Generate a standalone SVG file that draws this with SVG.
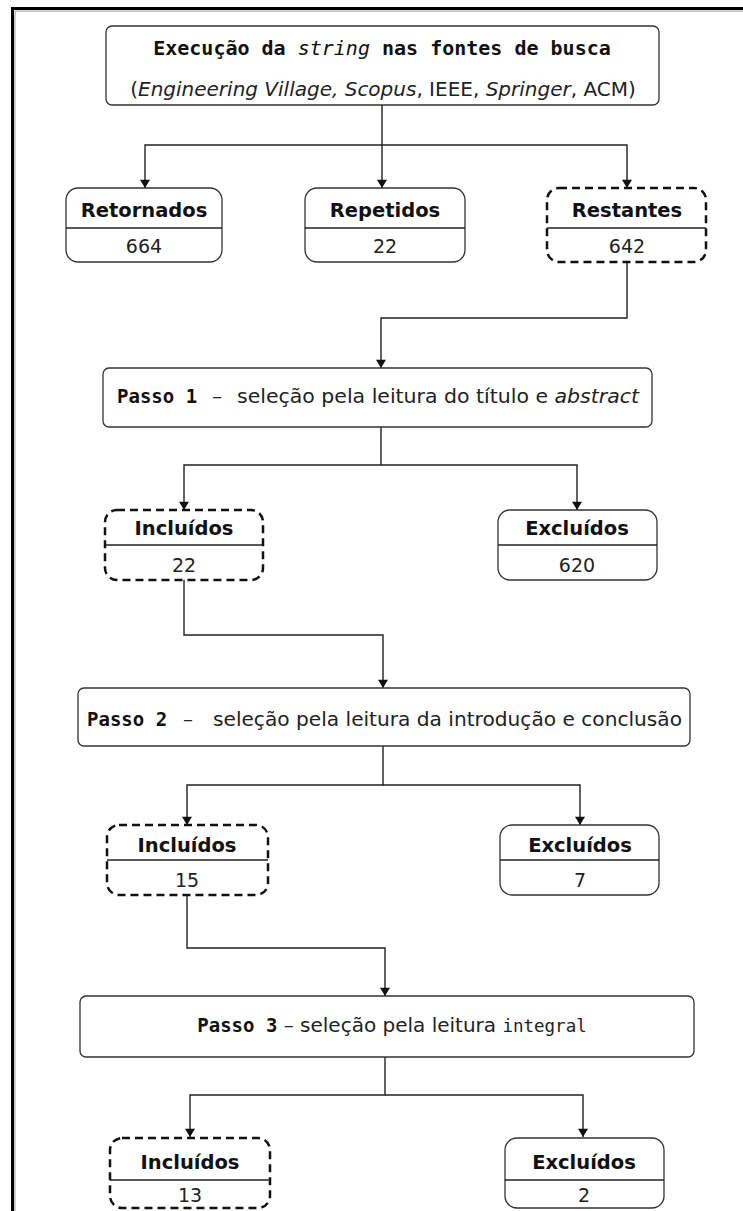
<svg xmlns="http://www.w3.org/2000/svg" width="743" height="1211" viewBox="0 0 743 1211">
  <style>
    .box { fill: #ffffff; stroke: #333333; stroke-width: 1.3; }
    .dash { fill: #ffffff; stroke: #111111; stroke-width: 2.5; stroke-dasharray: 8 5; }
    .div { stroke: #222222; stroke-width: 1.3; }
    .edge { fill: none; stroke: #222222; stroke-width: 1.4; }
    .hdr { font-family: "DejaVu Sans", Verdana, sans-serif; font-weight: bold; font-size: 19.5px; fill: #111111; text-anchor: middle; }
    .val { font-family: "DejaVu Sans", Verdana, sans-serif; font-size: 19px; fill: #222222; text-anchor: middle; }
    .txt { font-family: "DejaVu Sans", Verdana, sans-serif; font-size: 20px; fill: #222222; }
    .mono { font-family: "DejaVu Sans Mono", "Liberation Mono", monospace; }
    .step { font-family: "DejaVu Sans Mono", "Liberation Mono", monospace; font-weight: bold; font-size: 19px; fill: #111111; }
  </style>
  <defs>
    <marker id="arrow" viewBox="0 0 10 12" refX="10" refY="6" markerWidth="12" markerHeight="10" markerUnits="userSpaceOnUse" orient="auto">
      <path d="M0,0 L10,6 L0,12 Z" fill="#111111"/>
    </marker>
  </defs>

  <!-- page frame -->
  <path d="M12.5,1211 V8.5 H743" fill="none" stroke="#000000" stroke-width="3"/>
  <path d="M15,1211 V11 H743" fill="none" stroke="#999999" stroke-width="1"/>

  <!-- connectors -->
  <g id="connectors">
    <path class="edge" d="M382,105 V145 H145 V188" marker-end="url(#arrow)"/>
    <path class="edge" d="M382,145 V188" marker-end="url(#arrow)"/>
    <path class="edge" d="M382,145 H627 V188" marker-end="url(#arrow)"/>
    <path class="edge" d="M627,262 V318 H381 V368" marker-end="url(#arrow)"/>
    <path class="edge" d="M381,427 V465 H184 V510" marker-end="url(#arrow)"/>
    <path class="edge" d="M381,465 H577 V510" marker-end="url(#arrow)"/>
    <path class="edge" d="M184,580 V635 H383 V688" marker-end="url(#arrow)"/>
    <path class="edge" d="M383,746 V785 H187 V825" marker-end="url(#arrow)"/>
    <path class="edge" d="M383,785 H580 V825" marker-end="url(#arrow)"/>
    <path class="edge" d="M187,895 V948 H385 V996" marker-end="url(#arrow)"/>
    <path class="edge" d="M385,1057 V1095 H190 V1137" marker-end="url(#arrow)"/>
    <path class="edge" d="M385,1095 H583 V1137" marker-end="url(#arrow)"/>
  </g>

  <!-- search execution -->
  <g id="busca">
    <rect class="box" x="106" y="26" width="553" height="79" rx="6"/>
    <text x="382" y="55" text-anchor="middle" class="mono" font-weight="bold" font-size="20" fill="#111111">Execução da <tspan font-style="italic" font-weight="normal">string</tspan> nas fontes de busca</text>
    <text x="383" y="96" text-anchor="middle" class="txt">(<tspan font-style="italic">Engineering Village, Scopus</tspan>, IEEE, <tspan font-style="italic">Springer</tspan>, ACM)</text>
  </g>

  <g id="retornados">
    <rect class="box" x="66" y="188" width="156" height="74" rx="12"/>
    <line class="div" x1="66" y1="228" x2="222" y2="228"/>
    <text class="hdr" x="144" y="217">Retornados</text>
    <text class="val" x="144" y="253">664</text>
  </g>
  <g id="repetidos">
    <rect class="box" x="305" y="188" width="160" height="74" rx="12"/>
    <line class="div" x1="305" y1="228" x2="465" y2="228"/>
    <text class="hdr" x="385" y="217">Repetidos</text>
    <text class="val" x="385" y="253">22</text>
  </g>
  <g id="restantes">
    <rect class="dash" x="547" y="188" width="159" height="74" rx="12"/>
    <line class="div" x1="547" y1="228" x2="706" y2="228"/>
    <text class="hdr" x="627" y="217">Restantes</text>
    <text class="val" x="627" y="253">642</text>
  </g>

  <g id="passo1">
    <rect class="box" x="103" y="368" width="549" height="59" rx="6"/>
    <text class="step" x="117" y="403">Passo 1</text>
    <text class="txt" x="212" y="403">–</text>
    <text class="txt" x="237" y="403" textLength="402" lengthAdjust="spacingAndGlyphs">seleção pela leitura do título e <tspan font-style="italic">abstract</tspan></text>
  </g>

  <g id="incluidos1">
    <rect class="dash" x="105" y="510" width="158" height="70" rx="12"/>
    <line class="div" x1="105" y1="545" x2="263" y2="545"/>
    <text class="hdr" x="184" y="535">Incluídos</text>
    <text class="val" x="184" y="572">22</text>
  </g>
  <g id="excluidos1">
    <rect class="box" x="498" y="510" width="159" height="70" rx="12"/>
    <line class="div" x1="498" y1="545" x2="657" y2="545"/>
    <text class="hdr" x="577" y="535">Excluídos</text>
    <text class="val" x="577" y="572">620</text>
  </g>

  <g id="passo2">
    <rect class="box" x="78" y="688" width="612" height="58" rx="6"/>
    <text class="step" x="87" y="726">Passo 2</text>
    <text class="txt" x="183" y="726">–</text>
    <text class="txt" x="213" y="726" textLength="469" lengthAdjust="spacingAndGlyphs">seleção pela leitura da introdução e conclusão</text>
  </g>

  <g id="incluidos2">
    <rect class="dash" x="107" y="825" width="161" height="70" rx="12"/>
    <line class="div" x1="107" y1="860" x2="268" y2="860"/>
    <text class="hdr" x="187" y="852">Incluídos</text>
    <text class="val" x="187" y="887">15</text>
  </g>
  <g id="excluidos2">
    <rect class="box" x="500" y="825" width="159" height="70" rx="12"/>
    <line class="div" x1="500" y1="860" x2="659" y2="860"/>
    <text class="hdr" x="580" y="852">Excluídos</text>
    <text class="val" x="580" y="887">7</text>
  </g>

  <g id="passo3">
    <rect class="box" x="80" y="996" width="614" height="61" rx="6"/>
    <text x="392" y="1032" text-anchor="middle" class="txt" font-size="19"><tspan class="step">Passo 3</tspan> – seleção pela leitura <tspan class="mono" font-size="17.5">integral</tspan></text>
  </g>

  <g id="incluidos3">
    <rect class="dash" x="110" y="1138" width="160" height="70" rx="12"/>
    <line class="div" x1="110" y1="1180" x2="270" y2="1180"/>
    <text class="hdr" x="190" y="1169">Incluídos</text>
    <text class="val" x="190" y="1202">13</text>
  </g>
  <g id="excluidos3">
    <rect class="box" x="505" y="1138" width="159" height="70" rx="12"/>
    <line class="div" x1="505" y1="1180" x2="664" y2="1180"/>
    <text class="hdr" x="584" y="1169">Excluídos</text>
    <text class="val" x="584" y="1202">2</text>
  </g>
</svg>
